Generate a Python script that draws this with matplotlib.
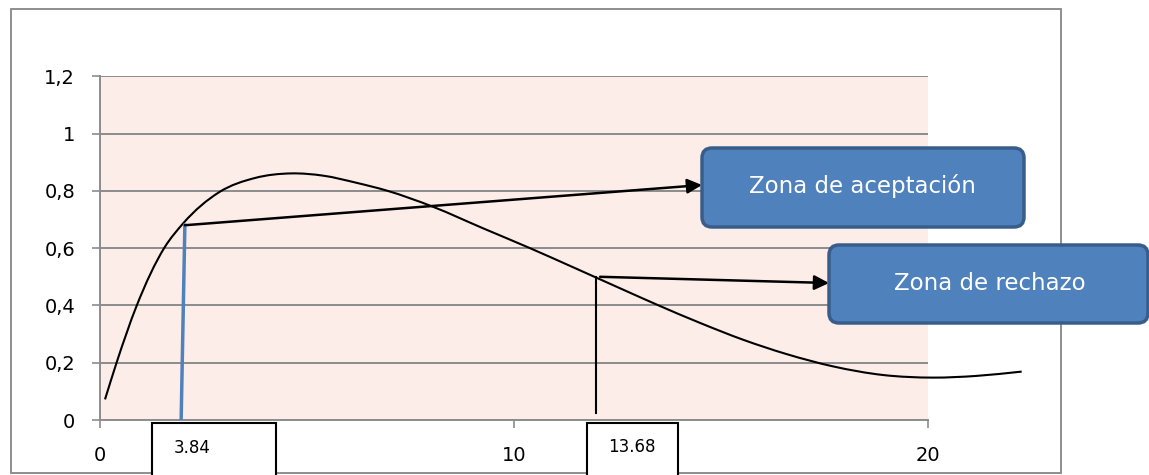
#chi-square style density with acceptance / rejection zones
#
import matplotlib
matplotlib.use('Agg')
import matplotlib.pyplot as plt
import numpy as np
from matplotlib.patches import FancyBboxPatch, Rectangle, PathPatch
from matplotlib.path import Path
#
# curve
x_curve = [0.121, 0.400, 0.886, 1.553, 2.012, 2.874, 3.744, 4.630, 5.394, 6.200,
           6.925, 8.051, 9.258, 10.386, 11.432, 12.560, 13.447, 14.493, 15.539,
           16.587, 17.713, 18.920, 20.128, 21.176, 22.263]
y_curve = [0.072, 0.200, 0.399, 0.601, 0.687, 0.795, 0.845, 0.861, 0.853, 0.828,
           0.801, 0.744, 0.669, 0.600, 0.533, 0.460, 0.403, 0.339, 0.280,
           0.230, 0.187, 0.157, 0.148, 0.154, 0.169]

# blue critical line (slightly slanted in the original)
blue_x = [1.96, 2.05]
blue_y = [0.0, 0.68]

# black critical line
crit_x = [11.98, 11.98]
crit_y = [0.025, 0.50]

x_ticks = [0, 10, 20]
y_ticks = [0, 0.2, 0.4, 0.6, 0.8, 1.0, 1.2]
y_ticklabels = ['0', '0,2', '0,4', '0,6', '0,8', '1', '1,2']

box_labels = ['Zona de aceptación', 'Zona de rechazo']
value_labels = ['3.84', '13.68']

grey = '#8c8c8c'
blue_fill = '#4f81bd'
blue_edge = '#385d8a'


def smooth_path(xs, ys):
    # excel-like smoothed line: cubic bezier segments through the points
    xs = np.asarray(xs, float)
    ys = np.asarray(ys, float)
    m = np.gradient(ys, xs)
    verts = [(xs[0], ys[0])]
    codes = [Path.MOVETO]
    for i in range(len(xs) - 1):
        h = xs[i + 1] - xs[i]
        verts += [(xs[i] + h / 3, ys[i] + m[i] * h / 3),
                  (xs[i + 1] - h / 3, ys[i + 1] - m[i + 1] * h / 3),
                  (xs[i + 1], ys[i + 1])]
        codes += [Path.CURVE4] * 3
    return Path(verts, codes)


fig = plt.figure(figsize=(11.49, 4.75), dpi=100)
W, H = 1149, 475

# main plot area: x 100..928 px, y 76..420 px
ax = fig.add_axes([100 / W, (H - 420) / H, 828 / W, (420 - 76.3) / H])
ax.set_facecolor('#fcede8')
ax.set_xlim(0, 20)
ax.set_ylim(0, 1.2)
ax.set_xticks(x_ticks)
ax.set_yticks(y_ticks)
ax.set_yticklabels(y_ticklabels)
ax.yaxis.grid(True, color=grey, lw=1.4)
ax.set_axisbelow(True)
for s in ['top', 'right']:
    ax.spines[s].set_visible(False)
for s in ['left', 'bottom']:
    ax.spines[s].set_color(grey)
    ax.spines[s].set_linewidth(1.4)
ax.tick_params(axis='y', length=6, width=1.2, color=grey, pad=12, labelsize=14)
ax.tick_params(axis='x', length=6, width=1.2, color=grey, pad=13, labelsize=14)

ax.add_patch(PathPatch(smooth_path(x_curve, y_curve), fill=False, ec='black', lw=1.5,
                       clip_on=False, zorder=3))
ax.plot(blue_x, blue_y, color=blue_fill, lw=2.5, zorder=3)
ax.plot(crit_x, crit_y, color='black', lw=1.5, zorder=3)

# overlay in pixel coordinates for frame, boxes and arrows
ov = fig.add_axes([0, 0, 1, 1], zorder=5)
ov.set_xlim(0, W)
ov.set_ylim(H, 0)
ov.axis('off')
ov.patch.set_alpha(0)

ov.add_patch(Rectangle((11, 9), 1050, 464, fill=False, ec='#868686', lw=1.3, zorder=1))

# rounded callout boxes
callouts = [(702, 148, 322, 79, 862, 186), (829, 245, 319, 78, 990, 283)]
for (bx, by, bw, bh, tx, ty), lab in zip(callouts, box_labels):
    ov.add_patch(FancyBboxPatch((bx, by), bw, bh, boxstyle='round,pad=0,rounding_size=10',
                                fc=blue_fill, ec=blue_edge, lw=2.5, zorder=4))
    ov.text(tx, ty, lab, color='white', fontsize=16.5, ha='center', va='center', zorder=5)

# arrows from the curve to the boxes
ov.annotate('', xy=(702, 185), xycoords='data', xytext=(blue_x[1], blue_y[1]),
            textcoords=ax.transData,
            arrowprops=dict(arrowstyle='-|>', color='black', lw=1.8, mutation_scale=22,
                            shrinkA=0, shrinkB=0), zorder=3)
ov.annotate('', xy=(829, 283), xycoords='data', xytext=(12.08, crit_y[1]),
            textcoords=ax.transData,
            arrowprops=dict(arrowstyle='-|>', color='black', lw=1.8, mutation_scale=22,
                            shrinkA=0, shrinkB=0), zorder=3)

# value boxes under the axis
value_boxes = [(152, 423, 124, 60, 192, 448), (587, 423, 91, 60, 632, 447)]
for (bx, by, bw, bh, tx, ty), lab in zip(value_boxes, value_labels):
    ov.add_patch(Rectangle((bx, by), bw, bh, fc='white', ec='black', lw=1.5, zorder=4))
    ov.text(tx, ty, lab, fontsize=12, ha='center', va='center', zorder=5)

fig.savefig('out.png', dpi=100)
